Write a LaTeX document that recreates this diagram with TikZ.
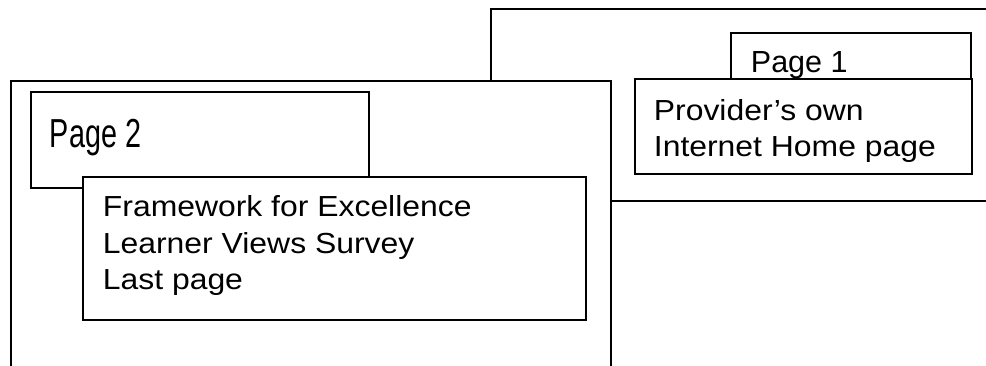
\documentclass[tikz,border=0pt]{standalone}
\usepackage{fontspec}
\setmainfont{Liberation Sans}
\newfontfamily\bodyfont{Liberation Sans}[FakeStretch=1.1]
\newfontfamily\narrowfont{Liberation Sans}[FakeStretch=0.71]
\begin{document}
\begin{tikzpicture}[x=1pt,y=-1pt,line width=1.8pt,
  box/.style={draw=black,fill=white,rectangle,inner sep=0pt,anchor=north west},
  body/.style={anchor=base west,inner sep=0pt,align=left,font=\bodyfont\fontsize{29}{36.5}\selectfont}]
\useasboundingbox (0,0) rectangle (986,365);
\clip (0,0) rectangle (986,365);
% back page
\node[box,minimum width=520pt,minimum height=192pt] (back) at (490,8) {};
\node[box,minimum width=240pt,minimum height=60pt] (p1box) at (730,32) {};
\node[anchor=base west,inner sep=0pt,font=\fontsize{30.5}{36}\selectfont] (p1text) at ([shift={(20,40)}]p1box.north west) {Page 1};
\node[box,minimum width=337pt,minimum height=95pt] (prov) at (634,78) {};
\node[body] (provtext) at ([shift={(19,78.5)}]prov.north west) {Provider’s own\\Internet Home page};
% front page
\node[box,minimum width=600pt,minimum height=320pt] (front) at (10,80) {};
\node[box,minimum width=338pt,minimum height=96pt] (p2box) at (30,91) {};
\node[anchor=base west,inner sep=0pt,font=\narrowfont\fontsize{40.5}{44}\selectfont] (p2text) at ([shift={(19,56)}]p2box.north west) {Page 2};
\node[box,minimum width=503pt,minimum height=143pt] (fw) at (82,176) {};
\node[body] (fwtext) at ([shift={(20,113.7)}]fw.north west) {Framework for Excellence\\Learner Views Survey\\Last page};
\end{tikzpicture}
\end{document}
